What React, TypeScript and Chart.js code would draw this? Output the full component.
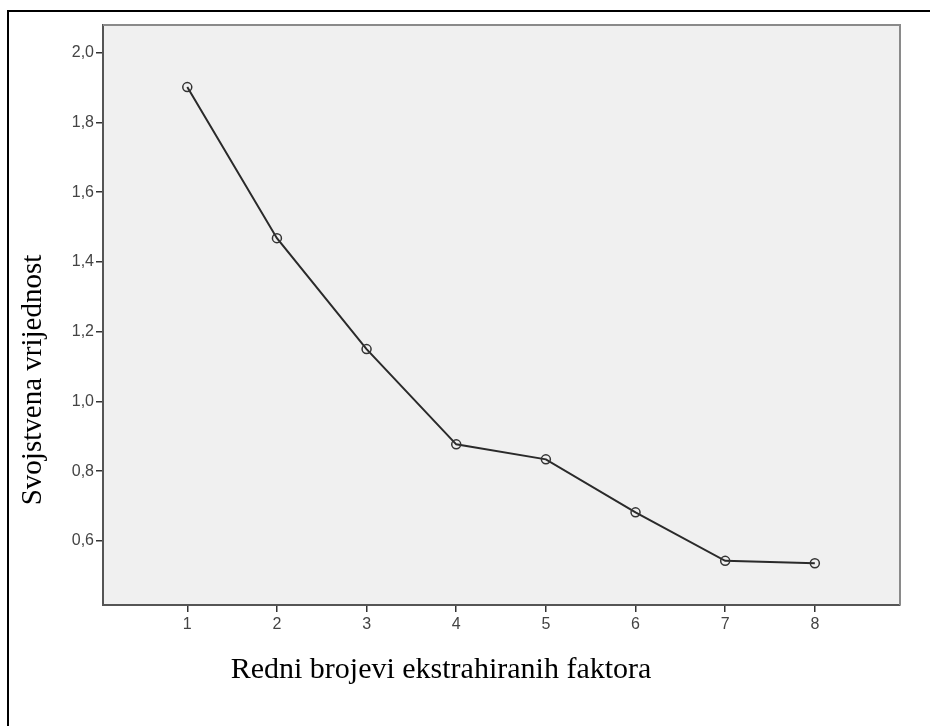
import { useEffect, useRef } from 'react';
import { Chart, registerables } from 'chart.js';

Chart.register(...registerables);

const factors = [1, 2, 3, 4, 5, 6, 7, 8];
const eigenvalues = [1.901, 1.468, 1.15, 0.877, 0.834, 0.682, 0.543, 0.536];
const yTickValues = [0.6, 0.8, 1.0, 1.2, 1.4, 1.6, 1.8, 2.0];
const xTitle = 'Redni brojevi ekstrahiranih faktora';
const yTitle = 'Svojstvena vrijednost';

const decorPlugin = {
  id: 'decor',
  beforeDraw(chart: any) {
    const { ctx, chartArea: a } = chart;
    ctx.save();
    ctx.fillStyle = '#f0f0f0';
    ctx.fillRect(a.left, a.top, a.right - a.left, a.bottom - a.top);
    ctx.restore();
  },
  afterDraw(chart: any) {
    const { ctx, chartArea: a } = chart;
    ctx.save();
    // plot frame top/right
    ctx.strokeStyle = '#8a8a8a';
    ctx.lineWidth = 2;
    ctx.beginPath();
    ctx.moveTo(a.left, a.top);
    ctx.lineTo(a.right, a.top);
    ctx.lineTo(a.right, a.bottom);
    ctx.stroke();
    // outer frame
    ctx.strokeStyle = '#000';
    ctx.lineWidth = 2;
    ctx.beginPath();
    ctx.moveTo(8, 740);
    ctx.lineTo(8, 11);
    ctx.lineTo(940, 11);
    ctx.stroke();
    // titles
    ctx.fillStyle = '#000';
    ctx.textAlign = 'center';
    ctx.textBaseline = 'middle';
    ctx.font = '30px "Liberation Serif", "Times New Roman", serif';
    ctx.fillText(xTitle, 441, 670);
    ctx.font = '29px "Liberation Serif", "Times New Roman", serif';
    ctx.translate(33, 380);
    ctx.rotate(-Math.PI / 2);
    ctx.fillText(yTitle, 0, 0);
    ctx.restore();
  },
};

export default function App() {
  const ref = useRef<HTMLCanvasElement>(null);
  useEffect(() => {
    if (!ref.current) return;
    const chart = new Chart(ref.current, {
      type: 'line',
      data: {
        datasets: [
          {
            data: factors.map((f, i) => ({ x: f, y: eigenvalues[i] })),
            borderColor: '#2a2a2a',
            borderWidth: 2,
            pointRadius: 4.5,
            pointBorderWidth: 1.5,
            pointBorderColor: '#333',
            pointBackgroundColor: 'rgba(0,0,0,0)',
            tension: 0,
          },
        ],
      },
      options: {
        animation: false,
        responsive: false,
        layout: { padding: { left: 0, top: 25, right: 30, bottom: 0 } },
        plugins: { legend: { display: false }, tooltip: { enabled: false } },
        scales: {
          x: {
            type: 'linear',
            min: 0.06,
            max: 8.95,
            afterBuildTicks: (s: any) => {
              s.ticks = factors.map((v) => ({ value: v }));
            },
            afterFit: (s: any) => {
              s.height = 121;
            },
            grid: { drawOnChartArea: false, drawTicks: true, tickLength: 7, color: '#333', lineWidth: 1.5 },
            border: { display: true, color: '#555', width: 2 },
            ticks: {
              padding: 3,
              color: '#444',
              font: { family: '"Liberation Sans", Arial, sans-serif', size: 16 },
              callback: (v: any) => String(v),
            },
          },
          y: {
            min: 0.4165,
            max: 2.079,
            afterBuildTicks: (s: any) => {
              s.ticks = yTickValues.map((v) => ({ value: v }));
            },
            afterFit: (s: any) => {
              s.width = 103;
            },
            grid: { drawOnChartArea: false, drawTicks: true, tickLength: 7, color: '#333', lineWidth: 1.5 },
            border: { display: true, color: '#555', width: 2 },
            ticks: {
              padding: 2,
              color: '#444',
              font: { family: '"Liberation Sans", Arial, sans-serif', size: 16 },
              callback: (v: any) => Number(v).toFixed(1).replace('.', ','),
            },
          },
        },
      },
      plugins: [decorPlugin],
    });
    return () => chart.destroy();
  }, []);
  return (
    <div style={{ position: 'absolute', left: 0, top: 0, width: 930, height: 726, background: '#fff' }}>
      <canvas ref={ref} width={930} height={726} style={{ display: 'block', width: 930, height: 726 }} />
    </div>
  );
}
